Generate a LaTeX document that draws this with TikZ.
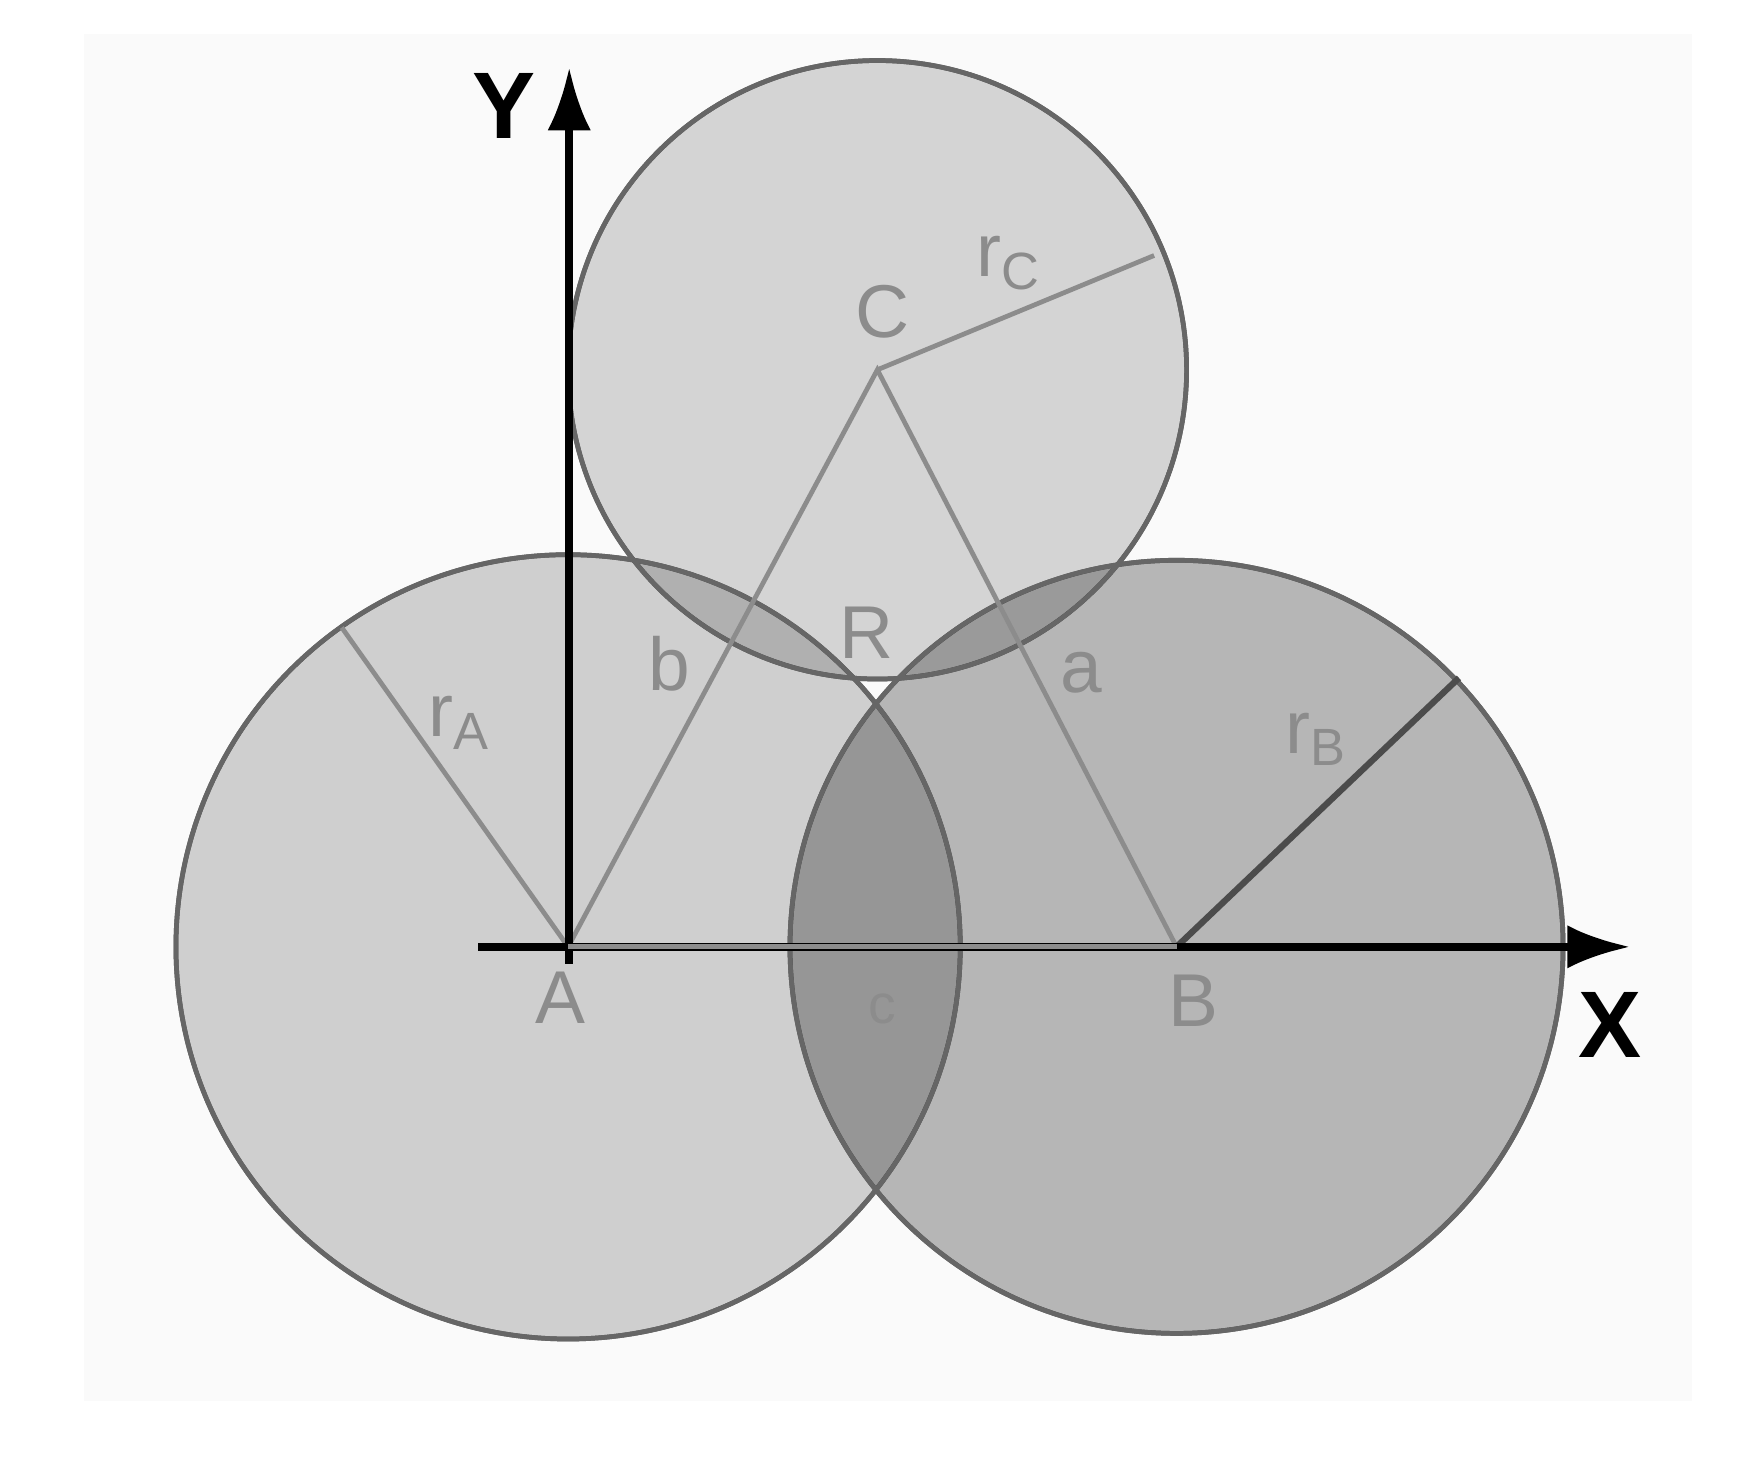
\documentclass[tikz,border=0pt]{standalone}
\usepackage{fontspec}
\setmainfont{Liberation Sans}
\usetikzlibrary{arrows.meta}
\begin{document}
\begin{tikzpicture}[x=0.01cm,y=-0.01cm,
  circ/.style={draw=black!60,line width=1.2pt,blend mode=multiply},
  lbl/.style={text=black!45,font=\fontsize{19}{19}\selectfont,inner sep=0pt},
  thin/.style={draw=black!45,line width=1.2pt},
  ax/.style={draw=black,line width=2pt,-{Latex[length=16pt,width=11pt]}}]
\useasboundingbox (0,0) rectangle (1560,1314);
\fill[black!2] (75,30) rectangle (1510,1250);
\coordinate (A) at (507,845);
\coordinate (B) at (1050,845);
\coordinate (C) at (783,330);
\coordinate (R) at (775,612);
\fill[circ,fill=black!17] (A) circle (350);
\fill[circ,fill=black!27] (B) circle (345);
\fill[circ,fill=black!15] (C) circle (276);
\draw[circ,fill=none,blend mode=normal] (A) circle (350) (B) circle (345) (C) circle (276);
\coordinate (ra) at (305,560);
\coordinate (rb) at (1302,605);
\coordinate (rc) at (1030,228);
\draw[thin] (A) -- (C) -- (B) -- (A);
\draw[thin] (A) -- (ra) (C) -- (rc);
\draw[draw=black!70,line width=1.6pt] (B) -- (rb);
\coordinate (xs) at (427,845); \coordinate (xe) at (1455,845);
\coordinate (ys) at (508,860); \coordinate (ye) at (508,60);
\draw[ax] (xs) -- (xe);
\draw[ax] (ys) -- (ye);
\draw[thin] (A) -- (B);
\node[font=\fontsize{24}{24}\selectfont\bfseries,inner sep=0pt] (Y) at (450,95) {Y};
\node[font=\fontsize{24}{24}\selectfont\bfseries,inner sep=0pt] (X) at (1437,915) {X};
\node[lbl] (la) at (500,890) {A};
\node[lbl] (lb) at (1065,893) {B};
\node[lbl] (lc) at (788,278) {C};
\node[lbl] (lr) at (773,565) {R};
\node[lbl] (sb) at (597,592) {b};
\node[lbl] (sa) at (965,600) {a};
\node[lbl,font=\fontsize{14}{14}\selectfont] (sc) at (787,900) {c};
\node[lbl] (rA) at (410,645) {r\textsubscript{A}};
\node[lbl] (rB) at (1175,660) {r\textsubscript{B}};
\node[lbl] (rC) at (900,235) {r\textsubscript{C}};
\end{tikzpicture}
\end{document}
